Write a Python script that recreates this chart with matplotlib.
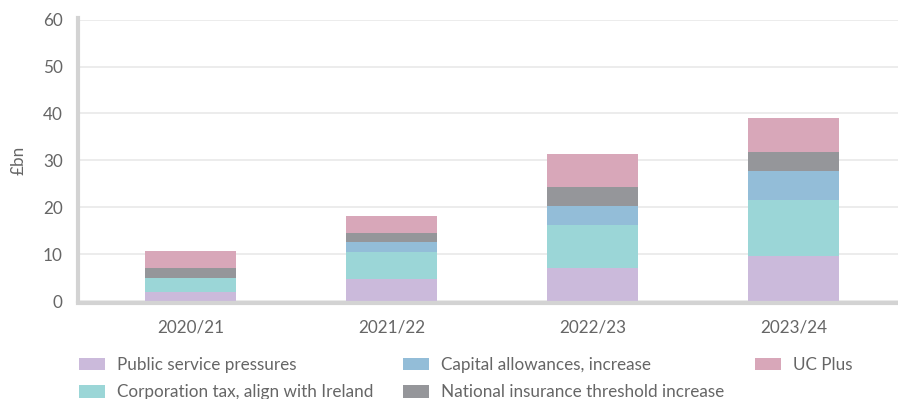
import matplotlib
matplotlib.use("Agg")
import matplotlib.pyplot as plt
from matplotlib.patches import Patch

plt.rcParams['font.family'] = ['Lato', 'DejaVu Sans']

# Fiscal years and cost components (£bn), stacked bottom to top
years = ["2020/21", "2021/22", "2022/23", "2023/24"]
public_service = [1.9, 4.6, 7.0, 9.6]
corporation_tax = [3.0, 5.8, 9.2, 11.9]
capital_allowances = [0.0, 2.1, 4.1, 6.2]
national_insurance = [2.1, 2.1, 4.0, 4.1]
uc_plus = [3.6, 3.5, 7.0, 7.2]

series = [
    ("Public service pressures", public_service, "#cbbadb"),
    ("Corporation tax, align with Ireland", corporation_tax, "#9bd6d7"),
    ("Capital allowances, increase", capital_allowances, "#93bdd8"),
    ("National insurance threshold increase", national_insurance, "#95969a"),
    ("UC Plus", uc_plus, "#d8a7b9"),
]

W, H = 898, 399
fig = plt.figure(figsize=(W / 100, H / 100), dpi=100)
ax = fig.add_axes([78 / W, 1 - 301 / H, 1 - 78 / W, (301 - 19.7) / H])

x = list(range(len(years)))
bottom = [0.0] * len(years)
for name, vals, col in series:
    ax.bar(x, vals, width=0.453, bottom=bottom, color=col, zorder=2, linewidth=0)
    bottom = [b + v for b, v in zip(bottom, vals)]

ax.set_xlim(-0.56, 3.52)
ax.set_ylim(0, 60)
ax.set_yticks(range(0, 61, 10))
ax.set_xticks(x)
ax.set_xticklabels(years)

ax.yaxis.grid(True, color="#ebebeb", linewidth=1.3, zorder=0)
ax.set_axisbelow(True)

for s in ("top", "right"):
    ax.spines[s].set_visible(False)
ax.spines["left"].set_color("#d3d3d3")
ax.spines["left"].set_linewidth(3)
ax.spines["bottom"].set_color("#d3d3d3")
ax.spines["bottom"].set_linewidth(3)
ax.spines["bottom"].set_position(("outward", 1.5))
ax.spines["left"].set_bounds(0, 60.4)

ax.tick_params(axis="both", length=0, labelsize=12.3, labelcolor="#666666")
ax.tick_params(axis="y", pad=11)
ax.tick_params(axis="x", pad=12)

ax.set_ylabel("£bn", fontsize=12.3, color="#666666", labelpad=12)

handles = [Patch(facecolor=c, edgecolor="none", label=n) for n, _, c in series]
lfs = 12.35
fs = lfs * 100 / 72
fig.legend(handles=handles, ncol=3, loc="upper left",
           bbox_to_anchor=(79 / W, 1 - 357 / H), frameon=False,
           fontsize=lfs, labelcolor="#666666", borderpad=0, borderaxespad=0,
           handlelength=26 / fs, handleheight=13 / fs, handletextpad=12 / fs,
           columnspacing=30 / fs, labelspacing=0.66)

fig.savefig("out.png", dpi=100)
